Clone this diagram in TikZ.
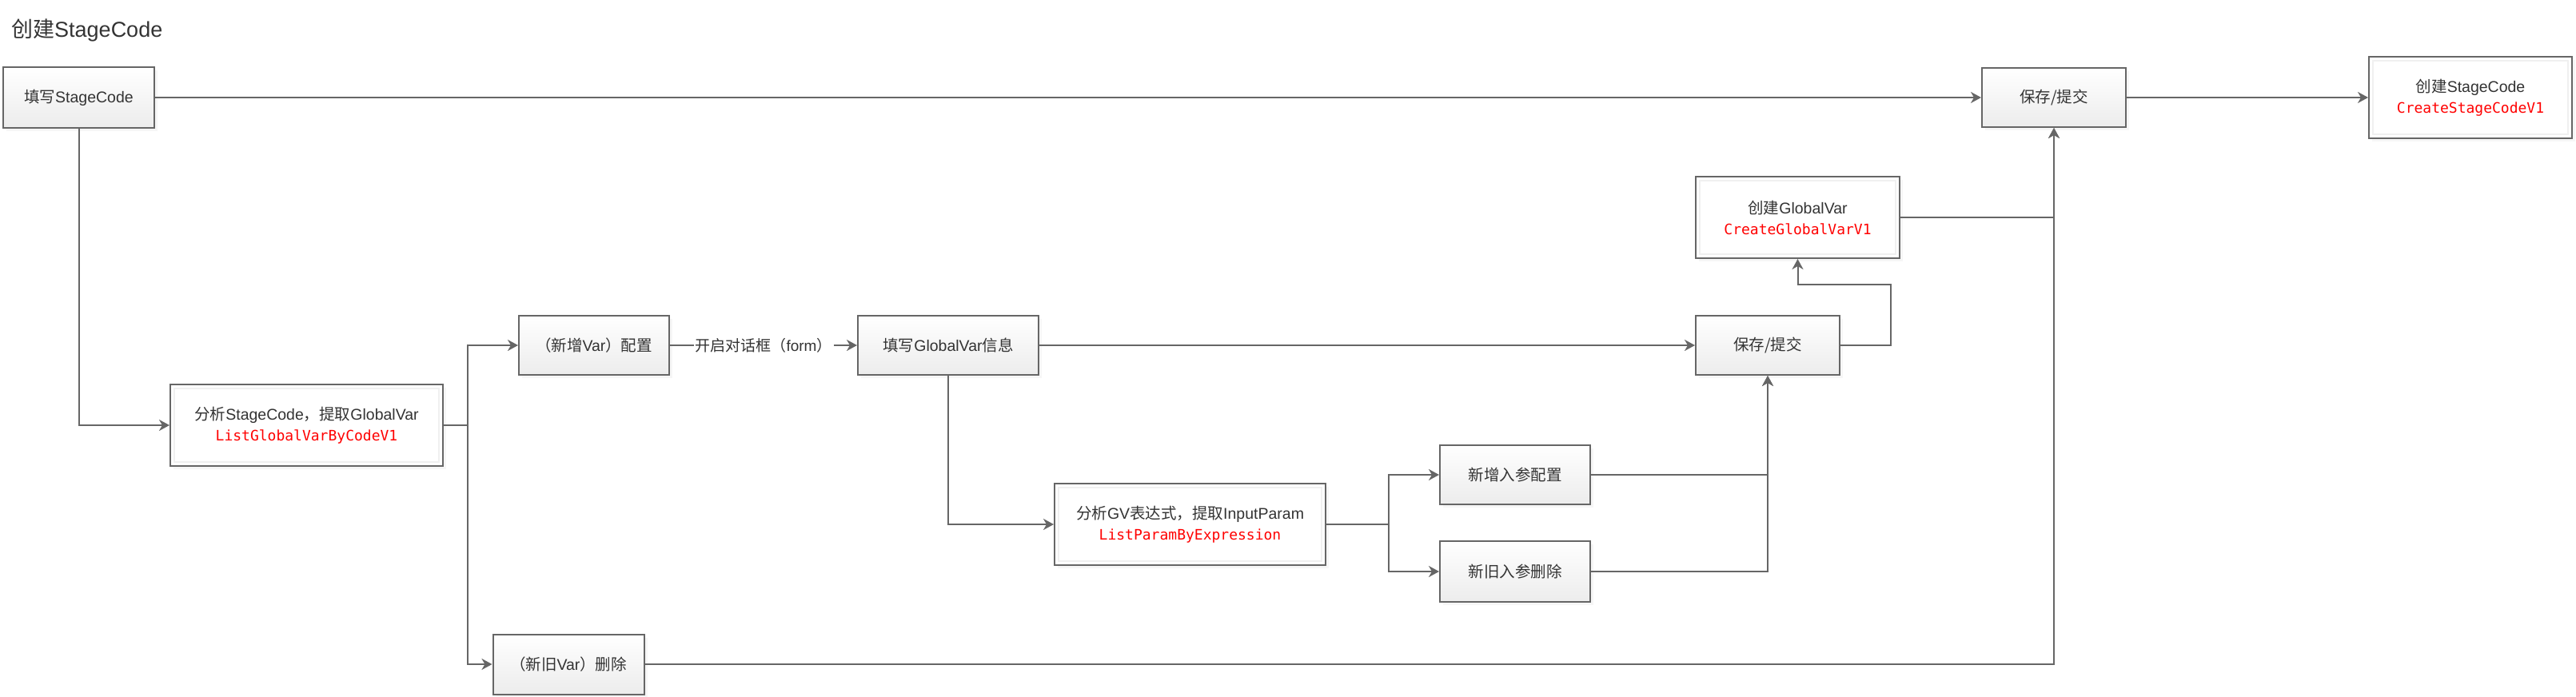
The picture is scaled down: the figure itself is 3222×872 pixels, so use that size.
\documentclass[tikz,border=0pt]{standalone}
\usepackage{fontspec}
\setmainfont{Liberation Sans}
\newfontfamily\cjk{Noto Sans CJK SC}
\newfontfamily\codefont{DejaVu Sans Mono}
\usetikzlibrary{arrows.meta,shadows}
\newcommand\zh[1]{{\cjk #1}}
\newcommand\apiname[1]{{\fontsize{18}{26}\selectfont\codefont\color{red}#1}}
\definecolor{lc}{HTML}{666666}
\definecolor{tc}{HTML}{333333}
\definecolor{bot}{HTML}{ECECEC}
\begin{document}
\begin{tikzpicture}[x=1pt,y=-1pt,
  base/.style={draw=lc, line width=2pt, inner sep=0pt, text=tc,
    font=\fontsize{19.5}{26}\selectfont, align=center,
    drop shadow={shadow xshift=4pt,shadow yshift=-4pt,fill=black!7}},
  proc/.style={base, top color=white, bottom color=bot},
  apibox/.style={base, fill=white,
    path picture={\draw[black!6,line width=1.5pt]
      ([shift={(5pt,-5pt)}]path picture bounding box.north west) rectangle
      ([shift={(-5pt,5pt)}]path picture bounding box.south east);}},
  conn/.style={draw=lc, line width=2pt},
  arr/.style={conn, -{Stealth[length=13pt,width=14pt,inset=4pt]}},
  elabel/.style={fill=white, inner sep=2pt, text=tc, font=\fontsize{19}{24}\selectfont}]

\useasboundingbox (0,0) rectangle (3222,872);

% title
\node[anchor=west, inner sep=0pt, text=tc, font=\fontsize{27}{32}\selectfont] (title) at (14,38) {\zh{创建}StageCode};

% nodes
\node[proc, minimum width=189pt, minimum height=75pt] (s1) at (98.5,122) {\zh{填写}StageCode};
\node[apibox, minimum width=341pt, minimum height=102pt] (a1) at (383.5,532) {\zh{分析}StageCode\zh{，提取}GlobalVar\\\apiname{ListGlobalVarByCodeV1}};
\node[proc, minimum width=188pt, minimum height=74pt] (p1) at (743,432) {\zh{（新增}Var\zh{）配置}};
\node[proc, minimum width=226pt, minimum height=74pt] (g1) at (1186,432) {\zh{填写}GlobalVar\zh{信息}};
\node[apibox, minimum width=339pt, minimum height=102pt] (a2) at (1488.5,656) {\zh{分析}GV\zh{表达式，提取}InputParam\\\apiname{ListParamByExpression}};
\node[proc, minimum width=188pt, minimum height=74pt] (n1) at (1895,594) {\zh{新增入参配置}};
\node[proc, minimum width=188pt, minimum height=76pt] (n2) at (1895,715) {\zh{新旧入参删除}};
\node[proc, minimum width=189pt, minimum height=75pt] (d1) at (711,831) {\zh{（新旧}Var\zh{）删除}};
\node[proc, minimum width=180pt, minimum height=74pt] (sv2) at (2211,432) {\zh{保存/提交}};
\node[apibox, minimum width=255pt, minimum height=102pt] (cg) at (2248.5,272) {\zh{创建}GlobalVar\\\apiname{CreateGlobalVarV1}};
\node[proc, minimum width=180pt, minimum height=74pt] (sv1) at (2569,122) {\zh{保存/提交}};
\node[apibox, minimum width=254pt, minimum height=102pt] (cs) at (3090,122) {\zh{创建}StageCode\\\apiname{CreateStageCodeV1}};

% connectors
\draw[arr] (s1.east) -- (sv1.west);
\draw[arr] (sv1.east) -- (cs.west);
\draw[arr] (s1.south) |- (a1.west);
\coordinate (f1) at (585,532);
\draw[conn] (a1.east) -- (f1);
\draw[arr] (f1) |- (p1.west);
\draw[arr] (f1) |- (d1.west);
\draw[arr] (p1.east) -- node[elabel] {\zh{开启对话框（}form\zh{）}} (g1.west);
\draw[arr] (g1.east) -- (sv2.west);
\draw[arr] (g1.south) |- (a2.west);
\coordinate (f2) at (1737,656);
\draw[conn] (a2.east) -- (f2);
\draw[arr] (f2) |- (n1.west);
\draw[arr] (f2) |- (n2.west);
\draw[arr] (n1.east) -| (sv2.south);
\draw[arr] (n2.east) -| (sv2.south);
\coordinate (k) at (2365,432);
\draw[arr] (sv2.east) -- (k) |- ([yshift=-32pt]cg.south) -- (cg.south);
\draw[arr] (cg.east) -| (sv1.south);
\draw[arr] (d1.east) -| (sv1.south);
\end{tikzpicture}
\end{document}
